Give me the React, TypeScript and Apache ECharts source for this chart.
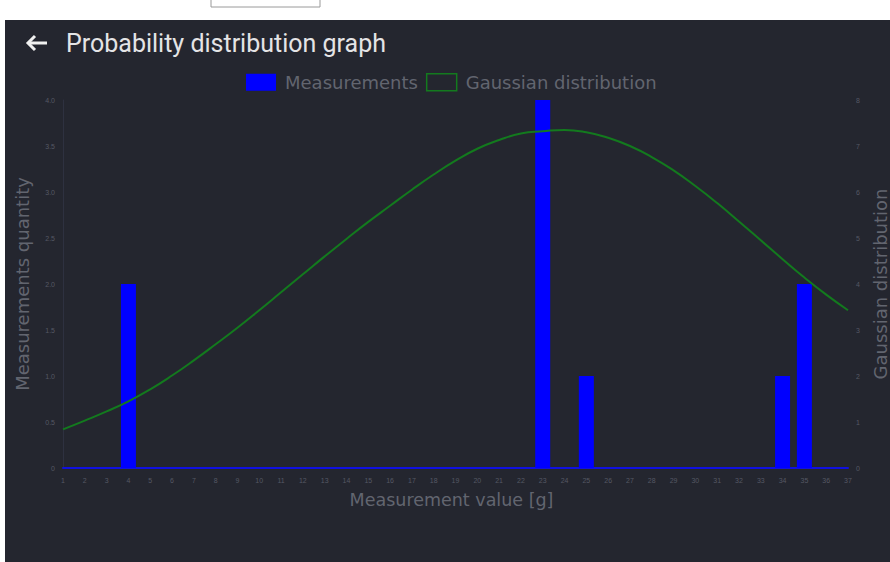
import React, { useEffect, useRef } from "react";
import * as echarts from "echarts";

const categories = ["1","2","3","4","5","6","7","8","9","10","11","12","13","14","15","16","17","18","19","20","21","22","23","24","25","26","27","28","29","30","31","32","33","34","35","36","37"];
const measurements = [0,0,0,2,0,0,0,0,0,0,0,0,0,0,0,0,0,0,0,0,0,0,4,0,1,0,0,0,0,0,0,0,0,1,2,0,0];
const gaussian = [0.84,1.03,1.23,1.45,1.71,2.01,2.34,2.69,3.05,3.43,3.82,4.21,4.60,4.98,5.35,5.70,6.05,6.38,6.68,6.94,7.13,7.27,7.32,7.35,7.30,7.18,7.00,6.76,6.47,6.13,5.76,5.36,4.95,4.54,4.14,3.77,3.43];
const leftTicks = ["0","0.5","1.0","1.5","2.0","2.5","3.0","3.5","4.0"];

const BG = "#24262f";
const DIM = "#62656f";

export default function App() {
  const ref = useRef<HTMLDivElement>(null);
  useEffect(() => {
    if (!ref.current) return;
    const chart = echarts.init(ref.current, null, { renderer: "svg" });
    chart.setOption({
      animation: false,
      backgroundColor: BG,
      graphic: [
        { type: "rect", shape: { x: 0, y: 0, width: 890, height: 20 }, style: { fill: "#ffffff" }, z: 100 },
        { type: "rect", shape: { x: 0, y: 0, width: 5, height: 562 }, style: { fill: "#ffffff" }, z: 100 },
        { type: "rect", shape: { x: 211, y: -2, width: 109, height: 9 }, style: { fill: "#ffffff", stroke: "#9a9a9a", lineWidth: 1 }, z: 101 },
        { type: "polyline", shape: { points: [[35, 36], [28, 43], [35, 50]] }, style: { stroke: "#f0f0f0", lineWidth: 3, fill: "none" }, z: 100 },
        { type: "line", shape: { x1: 29, y1: 43, x2: 47, y2: 43 }, style: { stroke: "#f0f0f0", lineWidth: 3 }, z: 100 },
        {
          type: "text", x: 66, y: 43, z: 100,
          style: { text: "Probability distribution graph", fill: "#e4e4e6", font: "25px Roboto", textVerticalAlign: "middle" },
        },
      ],
      legend: {
        top: 68,
        left: 241,
        itemWidth: 30,
        itemHeight: 17,
        itemGap: 8,
        textStyle: { color: DIM, fontSize: 18, fontFamily: "DejaVu Sans", padding: [0, 0, 0, 4] },
        data: [
          { name: "Measurements", icon: "rect", itemStyle: { color: "#0000ff" } },
          { name: "Gaussian distribution", icon: "rect", itemStyle: { color: "transparent", borderColor: "#137a1e", borderWidth: 1.5 } },
        ],
      },
      grid: { left: 63, right: 42, top: 100, bottom: 94, outerBoundsMode: "none" },
      xAxis: {
        type: "category",
        data: categories,
        boundaryGap: false,
        name: "Measurement value [g]",
        nameLocation: "middle",
        nameGap: 23,
        nameTextStyle: { color: DIM, fontSize: 17.5, fontFamily: "DejaVu Sans", padding: [0, 8, 0, 0] },
        axisLine: { show: true, lineStyle: { color: "#1010e0", width: 2 } },
        axisTick: { show: false },
        axisLabel: { interval: 0, color: "#555864", fontSize: 7, margin: 9 },
        splitLine: { show: false },
      },
      yAxis: [
        {
          type: "value",
          min: 0, max: 4, interval: 0.5,
          name: "Measurements quantity",
          nameLocation: "middle",
          nameGap: 32,
          nameTextStyle: { color: DIM, fontSize: 18, fontFamily: "DejaVu Sans" },
          axisLine: { show: true, lineStyle: { color: "#2e3140", width: 1 } },
          axisTick: { show: false },
          axisLabel: { color: "#555864", fontSize: 7, margin: 8, formatter: (v: number) => leftTicks[Math.round(v * 2)] },
          splitLine: { show: false },
        },
        {
          type: "value",
          min: 0, max: 8, interval: 1,
          position: "right",
          name: "Gaussian distribution",
          nameLocation: "middle",
          nameGap: 23,
          nameTextStyle: { color: DIM, fontSize: 18, fontFamily: "DejaVu Sans" },
          axisLine: { show: false },
          axisTick: { show: false },
          axisLabel: { color: "#555864", fontSize: 7, margin: 8 },
          splitLine: { show: false },
        },
      ],
      series: [
        {
          name: "Measurements",
          type: "bar",
          data: measurements,
          barWidth: 15,
          itemStyle: { color: "#0000ff" },
          yAxisIndex: 0,
          z: 3,
        },
        {
          name: "Gaussian distribution",
          type: "line",
          data: gaussian,
          yAxisIndex: 1,
          smooth: true,
          symbol: "none",
          lineStyle: { color: "#137a1e", width: 2 },
          itemStyle: { color: "#137a1e" },
          z: 4,
        },
      ],
    });
    return () => chart.dispose();
  }, []);
  return (
    <div style={{ position: "absolute", left: 0, top: 0, width: 890, height: 562 }}>
      <div ref={ref} style={{ width: 890, height: 562 }} />
    </div>
  );
}
